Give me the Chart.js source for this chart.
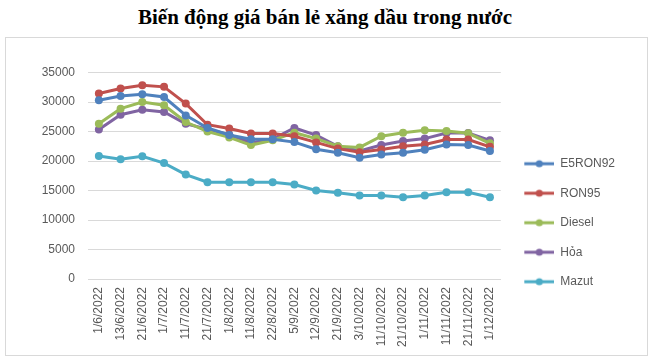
<!DOCTYPE html>
<html><head><meta charset="utf-8">
<script src="https://cdn.jsdelivr.net/npm/chart.js@4"></script>
<style>
html,body{margin:0;padding:0;background:#fff;width:650px;height:364px;overflow:hidden;}
#title{position:absolute;left:0;top:5px;width:650px;text-align:center;font:bold 21px "Liberation Serif","Times New Roman",serif;color:#000;}
#frame{position:absolute;left:5px;top:37px;width:641px;height:317px;border:1px solid #d9d9d9;}
canvas{display:block}
</style></head><body>
<div id="title">Biến động giá bán lẻ xăng dầu trong nước</div>
<div id="frame"><canvas id="c" width="641" height="317"></canvas></div>
<script>
const labels = ['1/6/2022','13/6/2022','21/6/2022','1/7/2022','11/7/2022','21/7/2022','1/8/2022','11/8/2022','22/8/2022','5/9/2022','12/9/2022','21/9/2022','3/10/2022','11/10/2022','21/10/2022','1/11/2022','11/11/2022','21/11/2022','1/12/2022'];
const e5ron92 = [30290,31020,31300,30850,27730,25600,24400,23700,23700,23200,22000,21400,20550,21100,21400,21900,22800,22700,21700];
const ron95   = [31450,32300,32850,32570,29730,26150,25500,24650,24650,24200,23150,22100,21500,21950,22500,22800,23650,23650,22400];
const diesel  = [26300,28870,30000,29450,26600,25000,24000,22700,23500,24800,23800,22500,22300,24200,24800,25200,25100,24700,23000];
const hoa     = [25350,27850,28700,28300,26300,25400,24450,23100,23700,25600,24400,22500,21700,22700,23400,23800,24750,24750,23500];
const mazut   = [20850,20300,20800,19650,17700,16400,16400,16400,16400,16000,15000,14600,14150,14150,13850,14150,14700,14700,13850];
const seriesNames = ['E5RON92','RON95','Diesel','Hỏa','Mazut'];
const yTicks = [0,5000,10000,15000,20000,25000,30000,35000];

const colors = ['#4F81BD','#C0504D','#9BBB59','#8064A2','#4BACC6'];
const values = [e5ron92, ron95, diesel, hoa, mazut];

function legendIcon(color){
  const c = document.createElement('canvas');
  c.width = 36; c.height = 10;
  const x = c.getContext('2d');
  x.strokeStyle = color; x.lineWidth = 3;
  x.beginPath(); x.moveTo(6,5); x.lineTo(36,5); x.stroke();
  x.fillStyle = color;
  x.beginPath(); x.arc(21,5,3.6,0,Math.PI*2); x.fill();
  return c;
}
const icons = colors.map(legendIcon);

new Chart(document.getElementById('c'), {
  type: 'line',
  data: {
    labels: labels,
    datasets: seriesNames.map((n,i)=>({
      label: n,
      data: values[i],
      borderColor: colors[i],
      backgroundColor: colors[i],
      borderWidth: 3,
      pointRadius: 4,
      pointBorderWidth: 0,
      pointBackgroundColor: colors[i],
      tension: 0
    }))
  },
  options: {
    responsive: false,
    animation: false,
    devicePixelRatio: 1,
    layout: { padding: { top: 34.5, right: 22, bottom: 0, left: 0 } },
    plugins: {
      title: { display: false },
      tooltip: { enabled: false },
      legend: {
        position: 'right',
        align: 'center',
        title: { display: true, text: '', padding: 0, font: { size: 15, lineHeight: 1.2 } },
        labels: {
          usePointStyle: true,
          pointStyleWidth: 36,
          padding: 17.5,
          color: '#595959',
          font: { family: 'Liberation Sans, Arial, sans-serif', size: 12 },
          generateLabels: (chart) => chart.data.datasets.map((d,i)=>({
            text: d.label, pointStyle: icons[i], fillStyle: d.borderColor,
            strokeStyle: d.borderColor, lineWidth: 0, hidden: false,
            datasetIndex: i, fontColor: '#595959'
          }))
        }
      }
    },
    scales: {
      x: {
        offset: true,
        grid: { display: false, drawTicks: false },
        border: { display: true, color: '#d9d9d9', width: 1 },
        ticks: {
          autoSkip: false, maxRotation: 90, minRotation: 90, padding: 8,
          color: '#595959',
          font: { family: 'Liberation Sans, Arial, sans-serif', size: 12 }
        },
        afterFit: (s) => { s.height = 76; }
      },
      y: {
        min: 0, max: 35000,
        afterBuildTicks: (s) => { s.ticks = yTicks.map(v=>({value:v})); },
        grid: { color: '#d9d9d9', lineWidth: 1, drawTicks: false },
        border: { display: false },
        ticks: {
          padding: 13, color: '#595959',
          font: { family: 'Liberation Sans, Arial, sans-serif', size: 12 },
          callback: (v) => String(v)
        },
        afterFit: (s) => { s.width = 82; }
      }
    }
  }
});
</script>
</body></html>
